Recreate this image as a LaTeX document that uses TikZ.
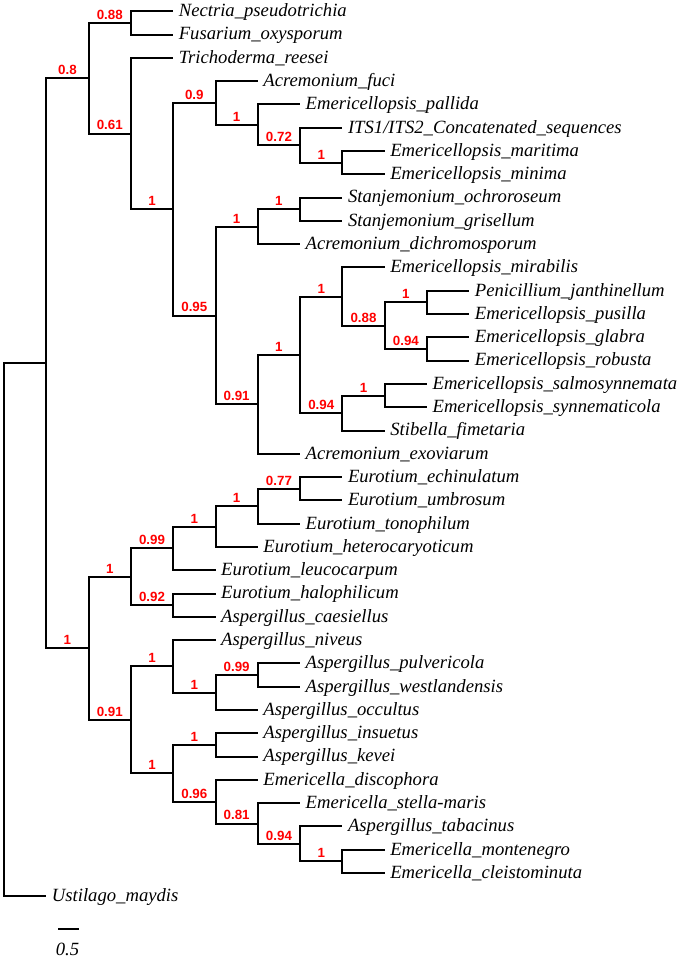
\documentclass[tikz,border=0pt]{standalone}
\usepackage{fontspec}
\setmainfont{Liberation Serif}
\newfontfamily\lsans{Liberation Sans}
\usetikzlibrary{calc}
\begin{document}
\begin{tikzpicture}[x=31.725pt, y=-17.4675pt,
  br/.style={line width=1.5pt, line join=miter},
  leaf/.style={anchor=base west, inner sep=0pt, xshift=4pt, yshift=-4pt,
               font=\fontsize{14}{16}\selectfont\itshape},
  supp/.style={anchor=south, inner sep=0pt, yshift=2.4pt, text=red,
               font=\lsans\bfseries\fontsize{10}{12}\selectfont}]
\useasboundingbox (-0.094563,0.515243) rectangle (15.9811,41.6917);

% ---------- internal nodes ----------
\coordinate (R)     at (0,27.556640625);
\coordinate (N1)    at (1,16.11328125);
\coordinate (P08)   at (2,3.875);
\coordinate (P1a)   at (2,28.3515625);
\coordinate (P088)  at (3,1.5);
\coordinate (P061)  at (3,6.25);
\coordinate (P1b)   at (4,9.5);
\coordinate (P09)   at (5,4.9375);
\coordinate (Q1)    at (6,5.875);
\coordinate (P072)  at (7,6.75);
\coordinate (R1)    at (8,7.5);
\coordinate (P095)  at (5,14.0625);
\coordinate (S1)    at (6,10.25);
\coordinate (T1)    at (7,9.5);
\coordinate (P091)  at (6,17.875);
\coordinate (U1)    at (7,15.75);
\coordinate (V1)    at (8,13.25);
\coordinate (X088)  at (9,14.5);
\coordinate (Y1)    at (10,13.5);
\coordinate (Z094)  at (10,15.5);
\coordinate (W094)  at (8,18.25);
\coordinate (W1)    at (9,17.5);
\coordinate (Q1a)   at (3,25.28125);
\coordinate (P099)  at (4,24.0625);
\coordinate (E1)    at (5,23.125);
\coordinate (E1b)   at (6,22.25);
\coordinate (E077)  at (7,21.5);
\coordinate (P092)  at (4,26.5);
\coordinate (P091b) at (3,31.421875);
\coordinate (G1)    at (4,29.125);
\coordinate (G1b)   at (5,30.25);
\coordinate (G099)  at (6,29.5);
\coordinate (H1)    at (4,33.71875);
\coordinate (I1)    at (5,32.5);
\coordinate (J096)  at (5,34.9375);
\coordinate (K081)  at (6,35.875);
\coordinate (L094)  at (7,36.75);
\coordinate (M1)    at (8,37.5);

% ---------- leaves ----------
\coordinate (L1)  at (4,1);
\coordinate (L2)  at (4,2);
\coordinate (L3)  at (4,3);
\coordinate (L4)  at (6,4);
\coordinate (L5)  at (7,5);
\coordinate (L6)  at (8,6);
\coordinate (L7)  at (9,7);
\coordinate (L8)  at (9,8);
\coordinate (L9)  at (8,9);
\coordinate (L10) at (8,10);
\coordinate (L11) at (7,11);
\coordinate (L12) at (9,12);
\coordinate (L13) at (11,13);
\coordinate (L14) at (11,14);
\coordinate (L15) at (11,15);
\coordinate (L16) at (11,16);
\coordinate (L17) at (10,17);
\coordinate (L18) at (10,18);
\coordinate (L19) at (9,19);
\coordinate (L20) at (7,20);
\coordinate (L21) at (8,21);
\coordinate (L22) at (8,22);
\coordinate (L23) at (7,23);
\coordinate (L24) at (6,24);
\coordinate (L25) at (5,25);
\coordinate (L26) at (5,26);
\coordinate (L27) at (5,27);
\coordinate (L28) at (5,28);
\coordinate (L29) at (7,29);
\coordinate (L30) at (7,30);
\coordinate (L31) at (6,31);
\coordinate (L32) at (6,32);
\coordinate (L33) at (6,33);
\coordinate (L34) at (6,34);
\coordinate (L35) at (7,35);
\coordinate (L36) at (8,36);
\coordinate (L37) at (9,37);
\coordinate (L38) at (9,38);
\coordinate (L39) at (1,39);

% ---------- branches ----------
\foreach \p/\c in {R/N1,R/L39,
  N1/P08,N1/P1a,
  P08/P088,P08/P061,
  P088/L1,P088/L2,
  P061/L3,P061/P1b,
  P1b/P09,P1b/P095,
  P09/L4,P09/Q1,
  Q1/L5,Q1/P072,
  P072/L6,P072/R1,
  R1/L7,R1/L8,
  P095/S1,P095/P091,
  S1/T1,S1/L11,
  T1/L9,T1/L10,
  P091/U1,P091/L20,
  U1/V1,U1/W094,
  V1/L12,V1/X088,
  X088/Y1,X088/Z094,
  Y1/L13,Y1/L14,
  Z094/L15,Z094/L16,
  W094/W1,W094/L19,
  W1/L17,W1/L18,
  P1a/Q1a,P1a/P091b,
  Q1a/P099,Q1a/P092,
  P099/E1,P099/L25,
  E1/E1b,E1/L24,
  E1b/E077,E1b/L23,
  E077/L21,E077/L22,
  P092/L26,P092/L27,
  P091b/G1,P091b/H1,
  G1/L28,G1/G1b,
  G1b/G099,G1b/L31,
  G099/L29,G099/L30,
  H1/I1,H1/J096,
  I1/L32,I1/L33,
  J096/L34,J096/K081,
  K081/L35,K081/L094,
  L094/L36,L094/M1,
  M1/L37,M1/L38}
  \draw[br] (\p) |- (\c);

% ---------- leaf labels ----------
\node[leaf] (t1)  at (L1)  {Nectria\_pseudotrichia};
\node[leaf] (t2)  at (L2)  {Fusarium\_oxysporum};
\node[leaf] (t3)  at (L3)  {Trichoderma\_reesei};
\node[leaf] (t4)  at (L4)  {Acremonium\_fuci};
\node[leaf] (t5)  at (L5)  {Emericellopsis\_pallida};
\node[leaf] (t6)  at (L6)  {ITS1/ITS2\_Concatenated\_sequences};
\node[leaf] (t7)  at (L7)  {Emericellopsis\_maritima};
\node[leaf] (t8)  at (L8)  {Emericellopsis\_minima};
\node[leaf] (t9)  at (L9)  {Stanjemonium\_ochroroseum};
\node[leaf] (t10) at (L10) {Stanjemonium\_grisellum};
\node[leaf] (t11) at (L11) {Acremonium\_dichromosporum};
\node[leaf] (t12) at (L12) {Emericellopsis\_mirabilis};
\node[leaf] (t13) at (L13) {Penicillium\_janthinellum};
\node[leaf] (t14) at (L14) {Emericellopsis\_pusilla};
\node[leaf] (t15) at (L15) {Emericellopsis\_glabra};
\node[leaf] (t16) at (L16) {Emericellopsis\_robusta};
\node[leaf] (t17) at (L17) {Emericellopsis\_salmosynnemata};
\node[leaf] (t18) at (L18) {Emericellopsis\_synnematicola};
\node[leaf] (t19) at (L19) {Stibella\_fimetaria};
\node[leaf] (t20) at (L20) {Acremonium\_exoviarum};
\node[leaf] (t21) at (L21) {Eurotium\_echinulatum};
\node[leaf] (t22) at (L22) {Eurotium\_umbrosum};
\node[leaf] (t23) at (L23) {Eurotium\_tonophilum};
\node[leaf] (t24) at (L24) {Eurotium\_heterocaryoticum};
\node[leaf] (t25) at (L25) {Eurotium\_leucocarpum};
\node[leaf] (t26) at (L26) {Eurotium\_halophilicum};
\node[leaf] (t27) at (L27) {Aspergillus\_caesiellus};
\node[leaf] (t28) at (L28) {Aspergillus\_niveus};
\node[leaf] (t29) at (L29) {Aspergillus\_pulvericola};
\node[leaf] (t30) at (L30) {Aspergillus\_westlandensis};
\node[leaf] (t31) at (L31) {Aspergillus\_occultus};
\node[leaf] (t32) at (L32) {Aspergillus\_insuetus};
\node[leaf] (t33) at (L33) {Aspergillus\_kevei};
\node[leaf] (t34) at (L34) {Emericella\_discophora};
\node[leaf] (t35) at (L35) {Emericella\_stella-maris};
\node[leaf] (t36) at (L36) {Aspergillus\_tabacinus};
\node[leaf] (t37) at (L37) {Emericella\_montenegro};
\node[leaf] (t38) at (L38) {Emericella\_cleistominuta};
\node[leaf] (t39) at (L39) {Ustilago\_maydis};

% ---------- support values ----------
\node[supp] (s1)  at (1.5,3.875)      {0.8};
\node[supp] (s2)  at (1.5,28.3515625) {1};
\node[supp] (s3)  at (2.5,1.5)        {0.88};
\node[supp] (s4)  at (2.5,6.25)       {0.61};
\node[supp] (s5)  at (3.5,9.5)        {1};
\node[supp] (s6)  at (4.5,4.9375)     {0.9};
\node[supp] (s7)  at (5.5,5.875)      {1};
\node[supp] (s8)  at (6.5,6.75)       {0.72};
\node[supp] (s9)  at (7.5,7.5)        {1};
\node[supp] (s10) at (4.5,14.0625)    {0.95};
\node[supp] (s11) at (5.5,10.25)      {1};
\node[supp] (s12) at (6.5,9.5)        {1};
\node[supp] (s13) at (5.5,17.875)     {0.91};
\node[supp] (s14) at (6.5,15.75)      {1};
\node[supp] (s15) at (7.5,13.25)      {1};
\node[supp] (s16) at (8.5,14.5)       {0.88};
\node[supp] (s17) at (9.5,13.5)       {1};
\node[supp] (s18) at (9.5,15.5)       {0.94};
\node[supp] (s19) at (7.5,18.25)      {0.94};
\node[supp] (s20) at (8.5,17.5)       {1};
\node[supp] (s21) at (2.5,25.28125)   {1};
\node[supp] (s22) at (3.5,24.0625)    {0.99};
\node[supp] (s23) at (4.5,23.125)     {1};
\node[supp] (s24) at (5.5,22.25)      {1};
\node[supp] (s25) at (6.5,21.5)       {0.77};
\node[supp] (s26) at (3.5,26.5)       {0.92};
\node[supp] (s27) at (2.5,31.421875)  {0.91};
\node[supp] (s28) at (3.5,29.125)     {1};
\node[supp] (s29) at (4.5,30.25)      {1};
\node[supp] (s30) at (5.5,29.5)       {0.99};
\node[supp] (s31) at (3.5,33.71875)   {1};
\node[supp] (s32) at (4.5,32.5)       {1};
\node[supp] (s33) at (4.5,34.9375)    {0.96};
\node[supp] (s34) at (5.5,35.875)     {0.81};
\node[supp] (s35) at (6.5,36.75)      {0.94};
\node[supp] (s36) at (7.5,37.5)       {1};

% ---------- scale bar ----------
\coordinate (sb1) at (1.277,40.40);
\coordinate (sb2) at (1.773,40.40);
\draw[br] (sb1) -- (sb2);
\node[inner sep=0pt, font=\fontsize{14}{16}\selectfont\itshape] (sbl) at (1.50,41.26) {0.5};
\end{tikzpicture}
\end{document}
